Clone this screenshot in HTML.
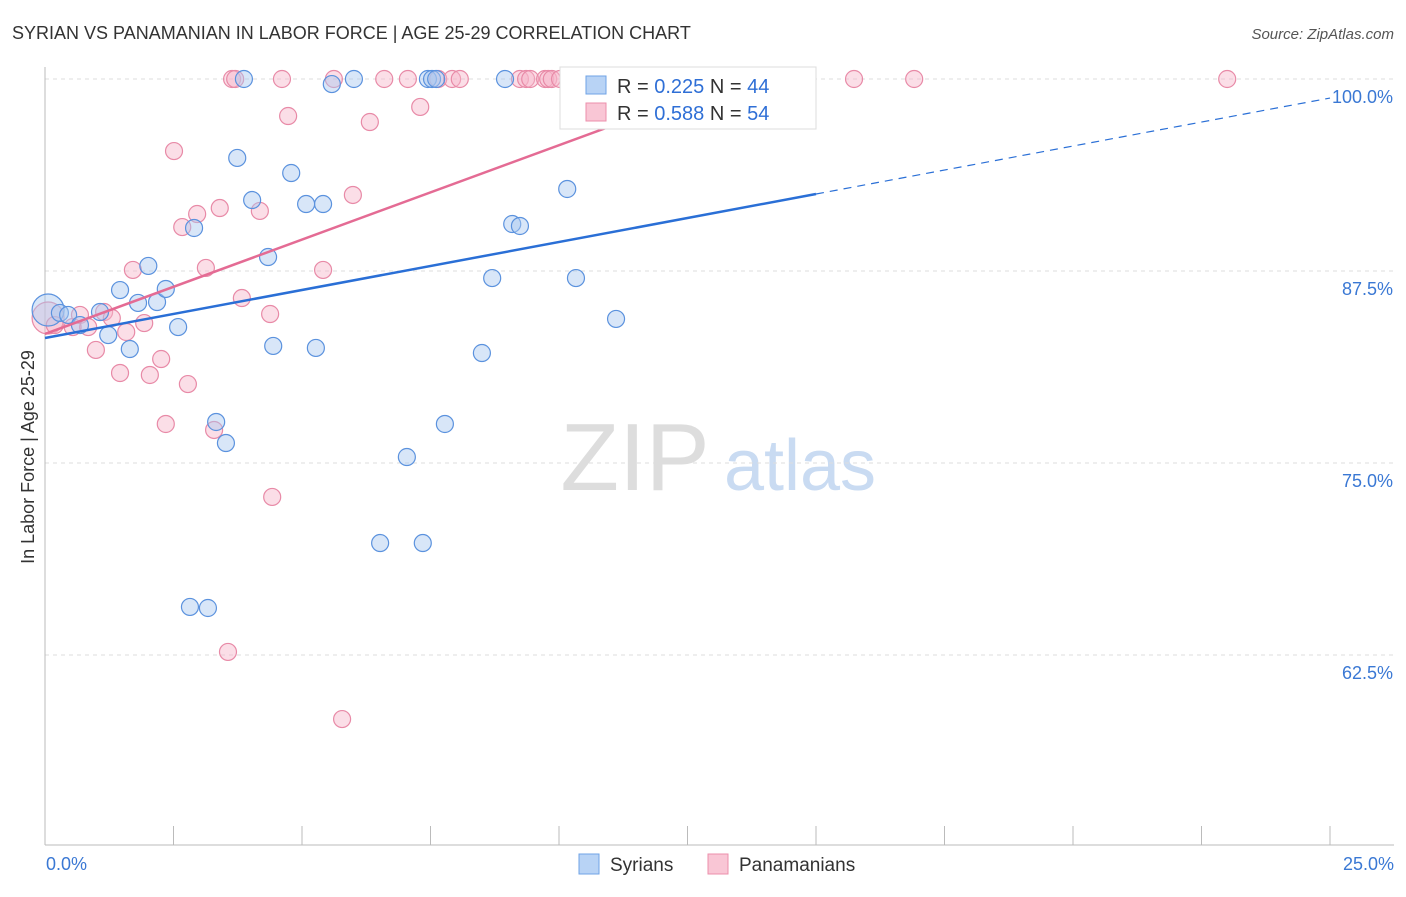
<!DOCTYPE html>
<html><head><meta charset="utf-8"><style>
body{margin:0;background:#fff;font-family:"Liberation Sans",sans-serif;}
svg text{font-family:"Liberation Sans",sans-serif;}
</style></head><body>
<svg id="chart" width="1406" height="892" xmlns="http://www.w3.org/2000/svg">
<text x="12" y="39" font-size="18" fill="#333">SYRIAN VS PANAMANIAN IN LABOR FORCE | AGE 25-29 CORRELATION CHART</text>
<text x="1394" y="39" font-size="15" fill="#555" text-anchor="end" font-style="italic">Source: ZipAtlas.com</text>
<text transform="translate(34,457) rotate(-90)" font-size="18" fill="#333" text-anchor="middle">In Labor Force | Age 25-29</text>
<g id="watermark">
<text x="635" y="490" font-size="96" fill="#ddd" font-family="Liberation Serif" text-anchor="middle">ZIP</text>
<text x="800" y="490" font-size="72" fill="#c9dbf2" text-anchor="middle">atlas</text>
</g>
<g id="grid"></g><g id="axes"></g><g id="marks"></g>
<g>
<rect x="560" y="67" width="256" height="62" fill="#fff" stroke="#ddd"/>
<rect x="586" y="76" width="20" height="18" fill="#b8d3f5" stroke="#6fa3e6"/>
<text x="617" y="93" font-size="20" fill="#333">R = <tspan fill="#2f6fd6">0.225</tspan>   N = <tspan fill="#2f6fd6">44</tspan></text>
<rect x="586" y="103" width="20" height="18" fill="#f9c6d5" stroke="#ec8fab"/>
<text x="617" y="120" font-size="20" fill="#333">R = <tspan fill="#2f6fd6">0.588</tspan>   N = <tspan fill="#2f6fd6">54</tspan></text>
</g>
<g>
<rect x="579" y="854" width="20" height="20" fill="#b8d3f5" stroke="#6fa3e6"/>
<text x="610" y="871" font-size="19" fill="#333">Syrians</text>
<rect x="708" y="854" width="20" height="20" fill="#f9c6d5" stroke="#ec8fab"/>
<text x="739" y="871" font-size="19" fill="#333">Panamanians</text>
</g>
</svg>
<script>
const yTicks=[100,87.5,75,62.5];
const yTickLabels=["100.0%","87.5%","75.0%","62.5%"];
const xTickLabels=["0.0%","25.0%"];
const syrX=[0.06,0.29,0.45,0.68,1.07,1.23,1.46,1.65,1.81,2.01,2.18,2.35,2.59,2.82,2.90,3.17,3.33,3.52,3.74,3.87,4.03,4.34,4.44,4.79,5.08,5.27,5.41,5.58,6.01,6.52,7.04,7.35,7.45,7.53,7.61,7.78,8.50,8.70,8.95,9.09,9.24,10.16,10.33,11.11];
const syrY=[84.96,84.77,84.64,83.98,84.83,83.33,86.26,82.42,85.42,87.83,85.48,86.33,83.85,65.63,90.30,65.56,77.67,76.30,94.86,100,92.12,88.41,82.62,93.88,91.86,82.49,91.86,99.67,100,69.79,75.39,69.79,100,100,100,77.54,82.16,87.04,100,90.56,90.43,92.84,87.04,84.38];
const panX=[0.06,0.19,0.54,0.68,0.84,0.99,1.15,1.30,1.46,1.58,1.71,1.93,2.04,2.26,2.35,2.51,2.67,2.78,2.96,3.13,3.29,3.40,3.56,3.64,3.83,4.18,4.38,4.42,4.61,4.73,5.41,5.62,5.78,5.99,6.32,6.60,7.06,7.30,7.65,7.92,8.07,9.24,9.36,9.44,9.73,9.79,9.86,10.02,11.58,13.60,15.74,16.91,23.00,3.70];
const panY=[84.44,83.98,83.85,84.64,83.85,82.36,84.83,84.44,80.86,83.53,87.57,84.11,80.73,81.77,77.54,95.31,90.36,80.14,91.21,87.70,77.15,91.60,62.70,100,85.74,91.41,84.70,72.79,100,97.59,87.57,100,58.33,92.45,97.20,100,100,98.18,100,100,100,100,100,100,100,100,100,100,100,100,100,100,100,100];
const syrTrend=[83.14,98.76];
const panTrend=[83.4,100.26];
const panTrendEndX=13.72;

const NS="http://www.w3.org/2000/svg";
const X0=45,X1=1330,Y100=79,PXPER=15.36;
const sx=v=>X0+(X1-X0)*v/25;
const sy=v=>Y100+(100-v)*PXPER;
function mk(tag,attrs,parent){const e=document.createElementNS(NS,tag);for(const k in attrs)e.setAttribute(k,attrs[k]);parent.appendChild(e);return e;}
const grid=document.getElementById('grid'),axes=document.getElementById('axes'),marks=document.getElementById('marks');
yTicks.forEach((t,i)=>{
 const l=mk('line',{x1:X0,x2:1394,y1:sy(t),y2:sy(t),stroke:'#ddd','stroke-dasharray':'4,4'},grid);
 
 
 const tx=mk('text',{x:1393,y:sy(t)+24,'font-size':18,fill:'#3a78d4','text-anchor':'end'},axes);
 tx.textContent=yTickLabels[i];
 
 
});
const ax=mk('line',{x1:X0,x2:1394,y1:845,y2:845,stroke:'#bbb'},axes);


const ay=mk('line',{x1:X0,x2:X0,y1:67,y2:845,stroke:'#bbb'},axes);


for(let i=0;i<=10;i++){
 const tk=mk('line',{x1:sx(i*2.5),x2:sx(i*2.5),y1:826,y2:845,stroke:'#bbb'},axes);
 
 
}
[[0,'start',46],[25,'end',1394]].forEach((d,i)=>{
 const tx=mk('text',{x:d[2],y:870,'font-size':18,fill:'#3a78d4','text-anchor':d[1]},axes);
 tx.textContent=xTickLabels[i];
 
 
});
function pts(xs,ys,fill,stroke,name){
 xs.forEach((x,i)=>{
  const r=(i===0)?16:8.5;
  const c=mk('circle',{cx:sx(x),cy:sy(ys[i]),r:r,fill:fill,'fill-opacity':0.45,stroke:stroke,'stroke-width':1.2},marks);
  
  
 });
}
pts(panX,panY,'#f7b6c9','#e88aa7','panamanian-point');
pts(syrX,syrY,'#a9c8f0','#5b92de','syrian-point');
const slope=(syrTrend[1]-syrTrend[0])/25;
const b1=mk('line',{x1:sx(0),y1:sy(syrTrend[0]),x2:sx(15),y2:sy(syrTrend[0]+slope*15),stroke:'#2a6fd6','stroke-width':2.5},marks);


const b2=mk('line',{x1:sx(15),y1:sy(syrTrend[0]+slope*15),x2:sx(25),y2:sy(syrTrend[1]),stroke:'#2a6fd6','stroke-width':1.2,'stroke-dasharray':'8,6'},marks);


const p1=mk('line',{x1:sx(0),y1:sy(panTrend[0]),x2:sx(panTrendEndX),y2:sy(panTrend[1]),stroke:'#e46b94','stroke-width':2.5},marks);


</script>
</body></html>
